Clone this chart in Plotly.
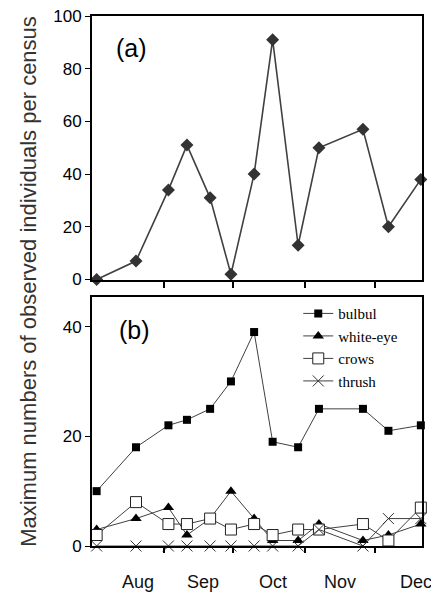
import plotly.graph_objects as go

# ---- data ----
census_dates = ["2000-08-03", "2000-08-20", "2000-09-03", "2000-09-11", "2000-09-21",
                "2000-09-30", "2000-10-10", "2000-10-18", "2000-10-29", "2000-11-07",
                "2000-11-26", "2000-12-07", "2000-12-21"]
total_birds = [0, 7, 34, 51, 31, 2, 40, 91, 13, 50, 57, 20, 38]
bulbul = [10, 18, 22, 23, 25, 30, 39, 19, 18, 25, 25, 21, 22]
white_eye = [3, 5, 7, 2, 5, 10, 5, 1, 1, 4, 1, 2, 4]
crows = [2, 8, 4, 4, 5, 3, 4, 2, 3, 3, 4, 1, 7]
thrush = [0, 0, 0, 0, 0, 0, 0, 0, 0, 3, 0, 5, 5]

month_boundaries = ["2000-09-01", "2000-10-01", "2000-11-01", "2000-12-01"]
month_label_dates = ["2000-08-21", "2000-09-18", "2000-10-18", "2000-11-16", "2000-12-19"]
month_labels = ["Aug", "Sep", "Oct", "Nov", "Dec"]
top_yticks = [0, 20, 40, 60, 80, 100]
bottom_yticks = [0, 20, 40]
x_range = ["2000-08-01", "2000-12-21 12:00"]

FONT = "Liberation Sans, Arial, sans-serif"
SERIF = "Liberation Serif, Times New Roman, serif"
LINE_GRAY = "#404040"

fig = go.Figure()

# panel (a)
fig.add_trace(go.Scatter(
    x=census_dates, y=total_birds, mode="lines+markers",
    line=dict(color=LINE_GRAY, width=1.6),
    marker=dict(symbol="diamond", size=10, color="#333333"),
    xaxis="x", yaxis="y", showlegend=False, cliponaxis=False))

# panel (b)
fig.add_trace(go.Scatter(
    x=census_dates, y=bulbul, mode="lines+markers", name="bulbul",
    line=dict(color=LINE_GRAY, width=1),
    marker=dict(symbol="square", size=8, color="black"),
    xaxis="x2", yaxis="y2", cliponaxis=False))
fig.add_trace(go.Scatter(
    x=census_dates, y=white_eye, mode="lines+markers", name="white-eye",
    line=dict(color=LINE_GRAY, width=1),
    marker=dict(symbol="triangle-up", size=10, color="black"),
    xaxis="x2", yaxis="y2", cliponaxis=False))
fig.add_trace(go.Scatter(
    x=census_dates, y=crows, mode="lines+markers", name="crows",
    line=dict(color=LINE_GRAY, width=1),
    marker=dict(symbol="square", size=11, color="white",
                line=dict(color="#222222", width=1)),
    xaxis="x2", yaxis="y2", cliponaxis=False))
fig.add_trace(go.Scatter(
    x=census_dates, y=thrush, mode="lines+markers", name="thrush",
    line=dict(color=LINE_GRAY, width=1),
    marker=dict(symbol="x-thin-open", size=11, color="#333333",
                line=dict(color="#333333", width=1)),
    xaxis="x2", yaxis="y2", cliponaxis=False))

axis_common = dict(showline=True, linecolor="black", linewidth=2, mirror=True,
                   showgrid=False, zeroline=False)

annotations = [
    dict(text="(a)", x=0.12, y=0.94, xref="paper", yref="paper",
         xanchor="center", yanchor="middle", showarrow=False,
         font=dict(size=25, family=FONT)),
    dict(text="(b)", xref="paper", yref="paper", x=0.13, y=0.408,
         xanchor="center", yanchor="middle", showarrow=False,
         font=dict(size=25, family=FONT)),
    dict(text="Maximum numbers of observed individuals per census",
         xref="paper", yref="paper", x=-0.193, y=0.499,
         xanchor="center", yanchor="middle", textangle=-90, showarrow=False,
         font=dict(size=22, family=FONT, color="#333333")),
]
for d, lab in zip(month_label_dates, month_labels):
    annotations.append(dict(text=lab, x=d, xref="x2", y=0, yref="paper",
                            yshift=-36, xanchor="center", yanchor="middle",
                            showarrow=False, font=dict(size=18, family=FONT, color="#111111")))

fig.update_layout(
    width=431, height=595,
    margin=dict(l=92, r=7, t=15, b=49),
    paper_bgcolor="white", plot_bgcolor="white",
    font=dict(family=FONT, size=17, color="black"),
    xaxis=dict(domain=[0, 1], anchor="y", type="date", range=x_range,
               tickmode="array", tickvals=month_boundaries, ticktext=[""] * 4,
               ticks="outside", ticklen=6, tickwidth=1.5, tickcolor="black",
               **axis_common),
    yaxis=dict(domain=[0.5028, 1], anchor="x", range=[0, 100],
               tickmode="array", tickvals=top_yticks,
               ticks="outside", ticklen=5, tickwidth=1, tickcolor="black",
               tickfont=dict(size=17), **axis_common),
    xaxis2=dict(domain=[0, 1], anchor="y2", type="date", range=x_range,
                tickmode="array", tickvals=month_boundaries, ticktext=[""] * 4,
                ticks="outside", ticklen=5, tickwidth=1.5, tickcolor="black",
                **axis_common),
    yaxis2=dict(domain=[0, 0.4689], anchor="x2", range=[0, 45.3],
                tickmode="array", tickvals=bottom_yticks,
                ticks="outside", ticklen=5, tickwidth=1, tickcolor="black",
                tickfont=dict(size=17), **axis_common),
    legend=dict(x=0.625, y=0.4695, xanchor="left", yanchor="top",
                bgcolor="rgba(0,0,0,0)", font=dict(family=SERIF, size=15),
                itemsizing="trace"),
    annotations=annotations,
)

fig.write_html("out.html", config={"displayModeBar": False},
               post_script="document.body.style.margin='0px';")
